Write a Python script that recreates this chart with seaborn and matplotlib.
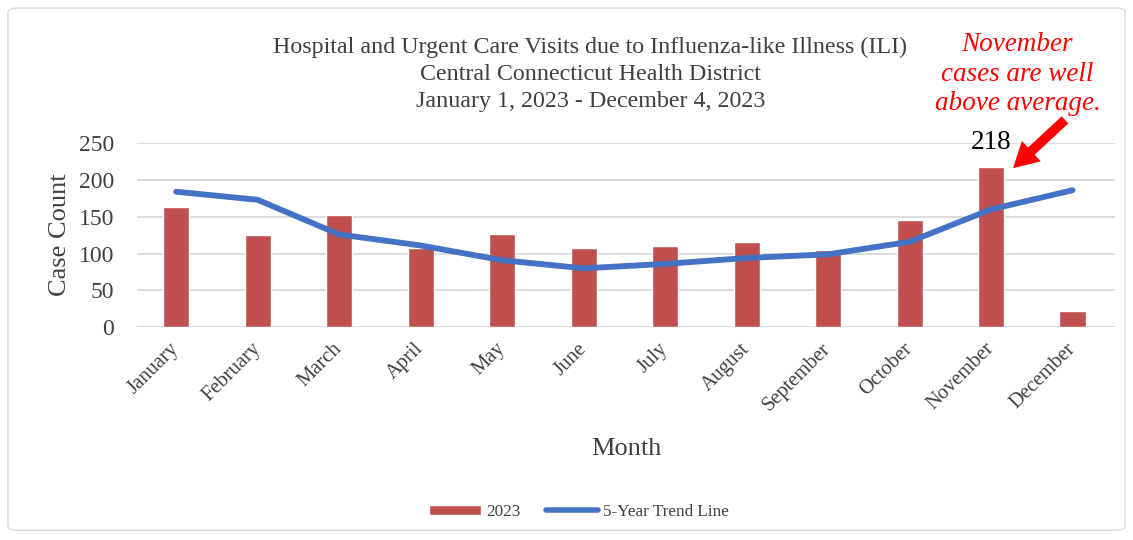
import numpy as np
import pandas as pd
import matplotlib
matplotlib.use("Agg")
import matplotlib.pyplot as plt
from matplotlib.patches import FancyBboxPatch, Patch
from matplotlib.lines import Line2D
import seaborn as sns

months = ["January", "February", "March", "April", "May", "June",
          "July", "August", "September", "October", "November", "December"]
cases_2023 = [163, 125, 152, 108, 127, 107, 110, 116, 105, 146, 218, 22]
trend_5yr = [184, 173, 126, 111, 91, 80, 86, 94, 99, 116, 160, 186]

df = pd.DataFrame({"Month": months, "2023": cases_2023, "Trend": trend_5yr})
df["pos"] = np.arange(len(df))

sns.set_style("white")
plt.rcParams["font.family"] = ["Liberation Serif", "DejaVu Serif"]

BAR = "#C0504D"
LINE = "#4472C4"
TXT = "#404040"

fig = plt.figure(figsize=(11.33, 5.4), dpi=100)
ax = fig.add_axes([0.121, 0.394, 0.863, 0.341])

sns.barplot(data=df, x="Month", y="2023", color=BAR, width=0.32,
            saturation=1, ax=ax, zorder=2)
sns.lineplot(data=df, x="pos", y="Trend", color=LINE, linewidth=4.2,
             ax=ax, zorder=3, solid_capstyle="round")

ax.set_ylim(0, 250)
ax.set_xlim(-0.48, 11.52)
ax.set_yticks([0, 50, 100, 150, 200, 250])
ax.yaxis.grid(True, color="#D9D9D9", linewidth=1.3, zorder=0)
ax.set_axisbelow(True)
for s in ax.spines.values():
    s.set_visible(False)
ax.tick_params(axis="y", labelsize=17, length=0, pad=16.5, colors=TXT)
ax.tick_params(axis="x", labelsize=14.8, length=0, pad=13.5, colors=TXT)
ax.set_xticks(df["pos"])
ax.set_xticklabels(months, rotation=45, ha="right", va="center",
                   rotation_mode="anchor")
ax.set_ylabel("Case Count", fontsize=19, color=TXT, labelpad=5.5)
ax.set_xlabel("Month", fontsize=19, color=TXT, labelpad=16.5)

# value label over November
nov = months.index("November")
ax.text(nov, cases_2023[nov] + 16, str(cases_2023[nov]),
        fontsize=19.5, ha="center", va="bottom", color="black")

fig.text(0.521, 0.931, "Hospital and Urgent Care Visits due to Influenza-like Illness (ILI)\n"
         "Central Connecticut Health District\nJanuary 1, 2023 - December 4, 2023",
         ha="center", va="top", fontsize=17.3, color=TXT, linespacing=1.37)

fig.text(0.898, 0.94, "November\ncases are well\nabove average.",
         ha="center", va="top", fontsize=19.5, color="#FF0000", style="italic",
         linespacing=1.22)
ax.annotate("", xy=(nov + 0.27, 216), xycoords="data",
            xytext=(0.94, 0.778), textcoords="figure fraction",
            arrowprops=dict(arrowstyle="simple,head_length=1.8,head_width=2.0,tail_width=0.7",
                            color="#FF0000", lw=0, shrinkA=0, shrinkB=0))

handles = [Patch(facecolor=BAR, label="2023"),
           Line2D([0], [0], color=LINE, lw=4, label="5-Year Trend Line",
                  solid_capstyle="round")]
fig.legend(handles=handles, loc="center", bbox_to_anchor=(0.511, 0.052), ncol=2,
           frameon=False, fontsize=12.3, handlelength=3.05, handleheight=0.5,
           columnspacing=1.5, labelcolor=TXT, handletextpad=0.3)

fig.patches.append(FancyBboxPatch((0.007, 0.018), 0.986, 0.967,
                                  boxstyle="round,pad=0,rounding_size=0.008",
                                  transform=fig.transFigure, fill=False,
                                  edgecolor="#D9D9D9", linewidth=1))

fig.savefig("out.png", dpi=100)
